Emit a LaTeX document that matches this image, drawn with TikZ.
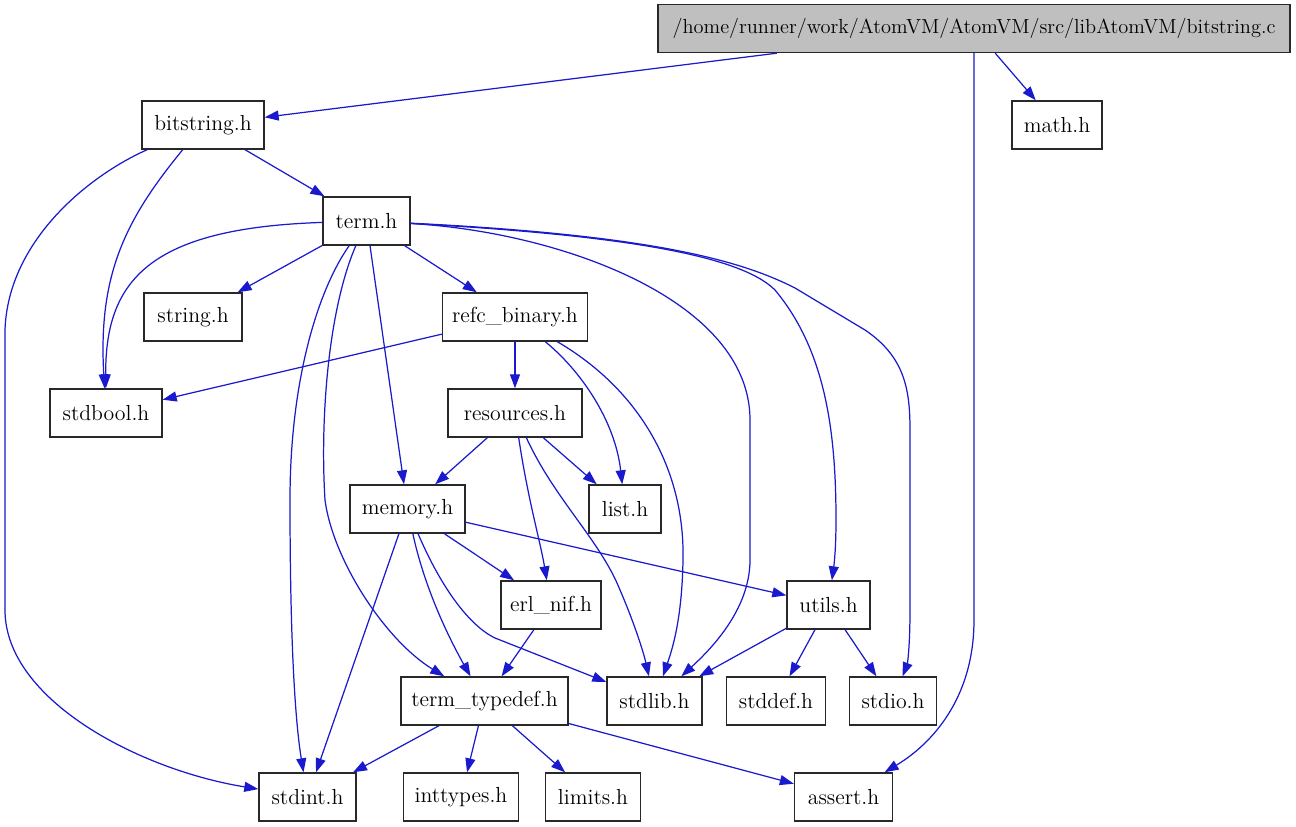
\documentclass[tikz,border=0pt]{standalone}
\usepackage{tikz}
\usepackage{xcolor}
\usetikzlibrary{arrows.meta, positioning, calc}
\definecolor{cEdge}{RGB}{25,25,205}
\definecolor{cRoot}{RGB}{191,191,191}
\definecolor{cBorder}{RGB}{40,40,40}
\tikzset{
	% include-graph file boxes
	file/.style    ={rectangle, draw=cBorder, line width=0.8pt, minimum height=0.96cm, inner xsep=2pt, align=center, font=\fontsize{12.4}{14}\selectfont},
	rootfile/.style={file, fill=cRoot, font=\fontsize{11.6}{14}\selectfont},
	% include arrows
	incl/.style    ={-{Triangle[length=2.8mm, width=2mm]}, cEdge, line width=0.7pt},
}

\begin{document}
\begin{tikzpicture}[x=0.02cm, y=-0.02cm]
\useasboundingbox (0,0) rectangle (1296,827);
\node[rootfile, minimum width=12.64cm] (root) at (974,28.5) {/home/runner/work/AtomVM/AtomVM/src/libAtomVM/bitstring.c};
\node[file, minimum width=2.44cm] (bitstring) at (203,125) {bitstring.h};
\node[file, minimum width=1.8cm] (math) at (1057,125) {math.h};
\node[file, minimum width=1.74cm] (term) at (366.5,221) {term.h};
\node[file, minimum width=1.96cm] (string) at (193,317) {string.h};
\node[file, minimum width=2.9cm] (refc) at (515,317) {refc\_binary.h};
\node[file, minimum width=2.24cm] (stdbool) at (106,413) {stdbool.h};
\node[file, minimum width=2.68cm] (resources) at (515,413) {resources.h};
\node[file, minimum width=2.3cm] (memory) at (407.5,509) {memory.h};
\node[file, minimum width=1.44cm] (list) at (625,509) {list.h};
\node[file, minimum width=2.0cm] (erlnif) at (551,605) {erl\_nif.h};
\node[file, minimum width=1.66cm] (utils) at (828.5,605) {utils.h};
\node[file, minimum width=3.34cm] (typedef) at (484.5,701) {term\_typedef.h};
\node[file, minimum width=1.9cm] (stdlib) at (654.5,701) {stdlib.h};
\node[file, minimum width=1.98cm] (stddef) at (776,701) {stddef.h};
\node[file, minimum width=1.74cm] (stdio) at (893,701) {stdio.h};
\node[file, minimum width=1.94cm] (stdint) at (307.5,797) {stdint.h};
\node[file, minimum width=2.3cm] (inttypes) at (461,797) {inttypes.h};
\node[file, minimum width=1.9cm] (limits) at (593,797) {limits.h};
\node[file, minimum width=1.96cm] (assert) at (843.5,797) {assert.h};

\draw[incl] (root) -- (bitstring);
\draw[incl] (root) -- (math);
\draw[incl] (root.south) -- (974,620) .. controls (974,700) and (930,745) .. (assert);
\draw[incl] (bitstring) -- (term);
\draw[incl] (bitstring) .. controls (125,220) and (98,275) .. (stdbool);
\draw[incl] (bitstring) .. controls (90,175) and (8,240) .. (5,330) -- (5,610) .. controls (5,700) and (140,770) .. (stdint);
\draw[incl] (term) -- (string);
\draw[incl] (term) -- (refc);
\draw[incl] (term) .. controls (150,228) and (105,280) .. (stdbool);
\draw[incl] (term) -- (memory);
\draw[incl] (term) .. controls (318,290) and (290,380) .. (290,500) .. controls (290,640) and (295,720) .. (stdint);
\draw[incl] (term) .. controls (328,310) and (320,420) .. (325,500) .. controls (333,560) and (385,640) .. (typedef);
\draw[incl] (term) .. controls (560,232) and (750,300) .. (750,420) -- (750,560) .. controls (750,610) and (710,650) .. (stdlib);
\draw[incl] (term) .. controls (620,235) and (740,255) .. (775,290) .. controls (825,350) and (836,430) .. (836,520) .. controls (836,550) and (834,565) .. (utils);
\draw[incl] (term) .. controls (650,235) and (740,260) .. (795,288) -- (865,330) .. controls (905,357) and (910,390) .. (910,430) -- (910,610) .. controls (910,650) and (907,665) .. (stdio);
\draw[incl] (refc) -- (stdbool);
\draw[incl] (refc) -- (resources);
\draw[incl] (refc) .. controls (580,370) and (615,420) .. (list);
\draw[incl] (refc) .. controls (640,390) and (685,470) .. (683,560) .. controls (682,620) and (672,650) .. (stdlib);
\draw[incl] (resources) -- (memory);
\draw[incl] (resources) -- (list);
\draw[incl] (resources) .. controls (528,500) and (540,540) .. (erlnif);
\draw[incl] (resources) .. controls (555,500) and (600,540) .. (620,590) .. controls (633,620) and (643,650) .. (stdlib);
\draw[incl] (memory) -- (erlnif);
\draw[incl] (memory) -- (utils);
\draw[incl] (memory) .. controls (425,590) and (450,640) .. (typedef);
\draw[incl] (memory) .. controls (440,585) and (468,625) .. (495,638) -- (stdlib);
\draw[incl] (memory) -- (stdint);
\draw[incl] (erlnif) -- (typedef);
\draw[incl] (utils) -- (stdlib);
\draw[incl] (utils) -- (stddef);
\draw[incl] (utils) -- (stdio);
\draw[incl] (typedef) -- (stdint);
\draw[incl] (typedef) -- (inttypes);
\draw[incl] (typedef) -- (limits);
\draw[incl] (typedef) -- (assert);
\end{tikzpicture}
\end{document}
